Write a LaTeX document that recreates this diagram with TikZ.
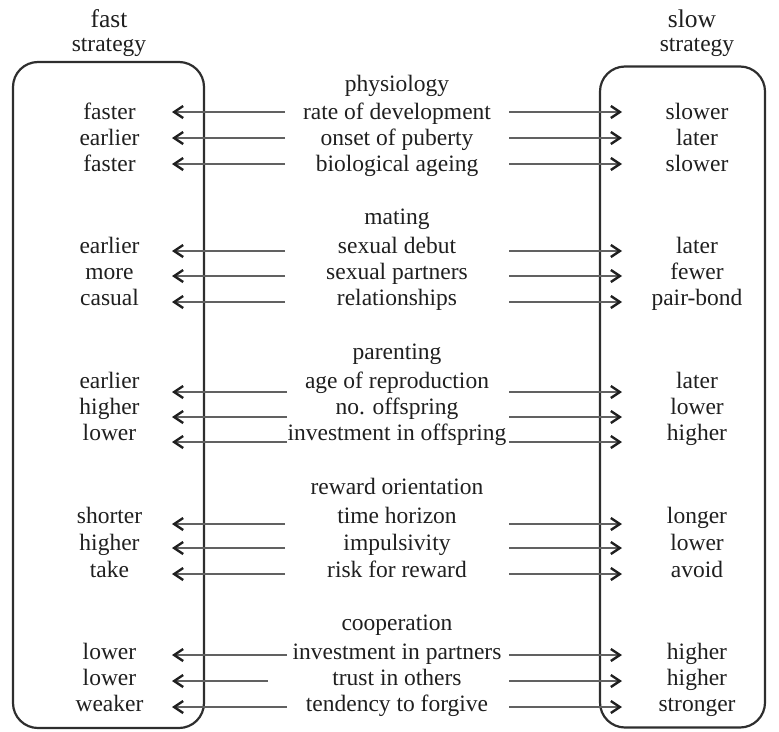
\documentclass[tikz,border=0pt]{standalone}
\usepackage{fontspec}
\setmainfont{Liberation Serif}
\usetikzlibrary{arrows.meta}
\begin{document}
\begin{tikzpicture}[x=1pt,y=-1pt,
  lbl/.style={anchor=base, inner sep=0pt, font=\fontsize{23.5}{27}\selectfont, text=black!88},
  ttl/.style={lbl, font=\fontsize{25.5}{29}\selectfont},
  arr/.style={draw=black!62, line width=1.4pt, -{Straight Barb[length=9pt,width=12pt,line width=2.4pt,color=black!88]}},
  stratbox/.style={draw=black!82, line width=2.2pt, rounded corners=25pt, inner sep=0pt}]
\useasboundingbox (0,0) rectangle (779,731);

% strategy boxes
\node[stratbox, minimum width=191pt, minimum height=666pt] (fastbox) at (108.5,395) {};
\node[stratbox, minimum width=165pt, minimum height=661pt] (slowbox) at (682.5,397) {};

% column titles
\node[ttl] (fast) at (109,27) {fast};
\node[lbl] (fasts) at (109,51) {strategy};
\node[ttl] (slow) at (692,27) {slow};
\node[lbl] (slows) at (697,51) {strategy};

% headings
\node[lbl] (h1) at (397,91) {physiology};
\node[lbl] (h2) at (397,224) {mating};
\node[lbl] (h3) at (397,359) {parenting};
\node[lbl] (h4) at (397,494) {reward orientation};
\node[lbl] (h5) at (397,630) {cooperation};

% rows: centre/left/right/baseline/arrow y/left start/right start
\foreach \c/\l/\r/\b/\a/\ls/\rs [count=\i] in {
  rate of development/faster/slower/119/112/285/509,
  onset of puberty/earlier/later/145/138/285/509,
  biological ageing/faster/slower/171/164/285/509,
  sexual debut/earlier/later/253/251/285/509,
  sexual partners/more/fewer/279/276/285/509,
  relationships/casual/pair-bond/305/302/285/509,
  age of reproduction/earlier/later/388/392/287/509,
  no. offspring/higher/lower/414/417/287/509,
  investment in offspring/lower/higher/440/442/287/509,
  time horizon/shorter/longer/523/524/285/509,
  impulsivity/higher/lower/550/548/285/509,
  risk for reward/take/avoid/577/574/285/509,
  investment in partners/lower/higher/659/655/287/509,
  trust in others/lower/higher/685/681/268/509,
  tendency to forgive/weaker/stronger/711/707/287/509}{
  \node[lbl] (c\i) at (397,\b) {\c};
  \node[lbl] (l\i) at (109.5,\b) {\l};
  \node[lbl] (r\i) at (697,\b) {\r};
  \coordinate (ls\i) at (\ls,\a);
  \coordinate (lt\i) at (172,\a);
  \coordinate (rs\i) at (\rs,\a);
  \coordinate (rt\i) at (622,\a);
  \draw[arr] (ls\i) -- (lt\i);
  \draw[arr] (rs\i) -- (rt\i);
}
\end{tikzpicture}
\end{document}
